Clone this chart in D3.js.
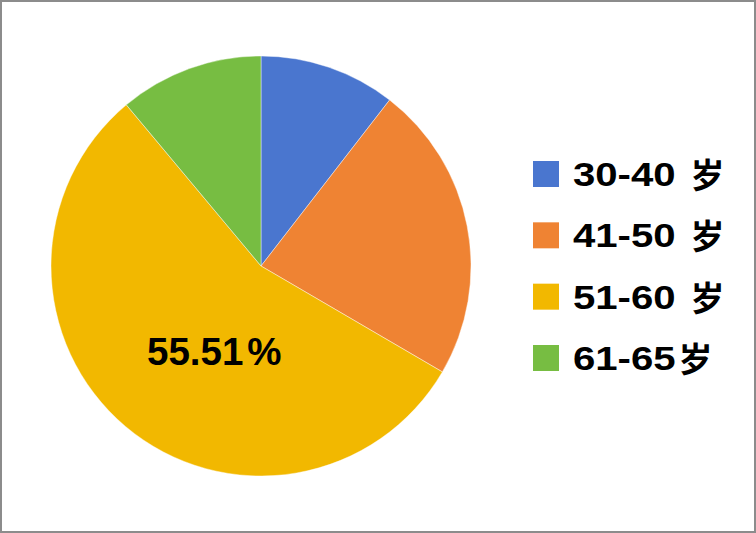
<!DOCTYPE html>
<html><head><meta charset="utf-8">
<script src="https://cdn.jsdelivr.net/npm/d3@7"></script>
<style>html,body{margin:0;padding:0;background:#fff;}svg{display:block;}</style>
</head><body>
<svg id="c" width="756" height="533"></svg>
<script>
const categories = ["30-40 岁", "41-50 岁", "51-60 岁", "61-65岁"];
const numberParts = ["30-40", "41-50", "51-60", "61-65"];
const values = [10.49, 22.92, 55.51, 11.08];
const colors = ["#4A76CF", "#EF8333", "#F2B800", "#77BD42"];
const shownLabels = [null, null, "55.51", null];

const svg = d3.select("#c");
svg.append("rect").attr("x",1).attr("y",1).attr("width",754).attr("height",531)
  .attr("fill","#fff").attr("stroke","#8c8c8c").attr("stroke-width",2);

const cx = 261, cy = 266, r = 210;
const pie = d3.pie().sort(null).value(d => d);
const arcs = pie(values);
const arc = d3.arc().innerRadius(0).outerRadius(r);
const g = svg.append("g").attr("transform", `translate(${cx},${cy})`);
g.selectAll("path").data(arcs).enter().append("path")
  .attr("d", arc).attr("fill", (d,i) => colors[i])
  .attr("stroke", "#fff").attr("stroke-width", 0.6).attr("stroke-opacity",0.7);

arcs.forEach((d,i) => {
  if (!shownLabels[i]) return;
  const t = g.append("text")
    .attr("x", 147 - cx).attr("y", 365 - cy)
    .attr("text-anchor","start")
    .attr("font-family","Liberation Sans, Arial, sans-serif").attr("font-weight","bold")
    .attr("font-size", 38.5).attr("fill","#000");
  t.append("tspan").text(shownLabels[i]);
  t.append("tspan").attr("dx", 4).text("%");
});

const leg = svg.append("g");
const rowY = d3.scalePoint().domain(categories).range([174, 358]);
categories.forEach((c,i) => {
  const y = rowY(c);
  leg.append("rect").attr("x",533).attr("y",y-13).attr("width",26).attr("height",26).attr("fill",colors[i]);
  const tg = leg.append("g").attr("transform",`translate(573,${y+12}) scale(1.18,1)`);
  const t = tg.append("text").attr("x",0).attr("y",0)
    .attr("font-family","Liberation Sans, Arial, sans-serif").attr("font-weight","bold")
    .attr("font-size",34).attr("fill","#000").text(numberParts[i]);
  const w = t.node().getComputedTextLength()*1.18;
  const spaced = c.indexOf(" ") >= 0;
  leg.append("text").attr("x", 573 + w + (spaced ? 15 : 3)).attr("y", y+14)
    .attr("font-family","Noto Sans CJK SC, sans-serif").attr("font-weight","bold")
    .attr("font-size",34).attr("fill","#000").text("岁");
});
</script>
</body></html>
